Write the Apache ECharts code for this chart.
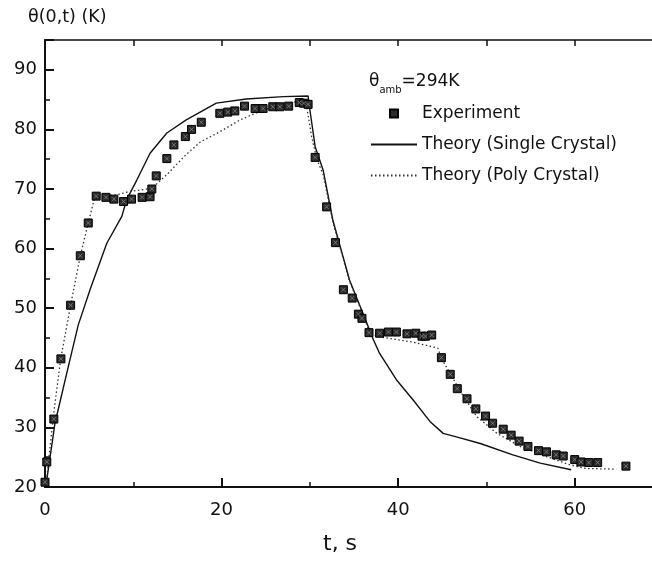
<!DOCTYPE html>
<html><head><meta charset="utf-8">
<script src="https://cdn.jsdelivr.net/npm/echarts@6/dist/echarts.min.js"></script>
<style>html,body{margin:0;padding:0;background:#fff}#c{width:652px;height:562px}</style>
</head><body><div id="c"></div>
<script>
// Experiment (time s, temperature K)
const expT = [0, 0.2, 1.0, 1.8, 2.9, 4.0, 4.9, 5.8, 6.9, 7.8, 8.9, 9.8, 11.0, 11.9, 12.1, 12.6, 13.8, 14.6, 15.9, 16.6, 17.7,
  19.8, 20.7, 21.5, 22.6, 23.8, 24.7, 25.8, 26.6, 27.6, 28.8, 29.3, 29.8, 30.6, 31.9, 32.9, 33.8, 34.8, 35.5, 35.9,
  36.7, 37.9, 38.9, 39.8, 41.0, 42.0, 42.7, 43.1, 43.8, 44.9, 45.9, 46.7, 47.8, 48.8, 49.9, 50.7, 51.9, 52.8, 53.7,
  54.7, 55.9, 56.8, 57.9, 58.7, 60.0, 60.7, 61.6, 62.6, 65.8];
const expTheta = [20.8, 24.2, 31.4, 41.5, 50.5, 58.8, 64.3, 68.8, 68.6, 68.3, 67.9, 68.3, 68.6, 68.7, 70.0, 72.2, 75.1, 77.4, 78.8, 80.0, 81.2,
  82.7, 82.9, 83.1, 83.9, 83.5, 83.5, 83.8, 83.8, 83.9, 84.5, 84.4, 84.2, 75.3, 67.0, 61.0, 53.1, 51.7, 49.0, 48.3,
  45.9, 45.8, 46.0, 46.0, 45.7, 45.8, 45.3, 45.3, 45.5, 41.7, 38.9, 36.5, 34.8, 33.1, 31.9, 30.7, 29.7, 28.7, 27.7,
  26.8, 26.1, 25.9, 25.4, 25.2, 24.6, 24.2, 24.1, 24.1, 23.5];
// Theory (Single Crystal)
const singleT = [0, 0.2, 1.13, 2.64, 3.77, 5.1, 7.0, 8.7, 9.25, 10.4, 11.9, 13.8, 16.0, 19.4, 22.8, 27.0, 29.8, 30.0, 30.6,
  31.5, 32.6, 34.5, 36.0, 37.2, 37.9, 39.8, 41.7, 43.6, 45.1, 46.6, 49.3, 53.0, 56.1, 59.6];
const singleTheta = [20.0, 21.2, 30.7, 40.2, 47.2, 53.1, 60.9, 65.4, 68.2, 71.5, 76.0, 79.4, 81.6, 84.4, 85.1, 85.5, 85.6, 83.3, 77.1,
  73.2, 64.8, 54.7, 49.2, 44.7, 42.4, 38.0, 34.6, 31.0, 29.0, 28.4, 27.3, 25.4, 24.0, 22.9];
// Theory (Poly Crystal)
const polyT = [0, 0.2, 0.94, 1.78, 2.9, 4.0, 4.9, 5.66, 8.1, 9.6, 12.1, 13.8, 16.0, 17.6, 19.8, 22.1, 24.3, 27.0, 29.6, 29.7,
  30.2, 30.8, 31.5, 32.6, 34.5, 36.0, 36.8, 37.9, 41.7, 44.5, 44.9, 46.1, 47.4, 48.9, 51.2, 53.8, 56.8, 59.5, 61.3, 64.7];
const polyTheta = [20.5, 21.5, 31.8, 41.5, 50.5, 58.8, 64.3, 68.8, 69.0, 69.6, 70.1, 72.4, 75.8, 77.9, 79.6, 81.6, 83.0, 84.3, 84.9, 83.3,
  78.8, 74.9, 72.5, 64.5, 54.5, 49.0, 45.8, 45.2, 44.3, 43.3, 41.6, 38.5, 35.2, 31.8, 29.0, 26.8, 25.1, 23.7, 23.1, 23.0];

const seriesNames = ['Experiment', 'Theory (Single Crystal)', 'Theory (Poly Crystal)'];
const xLabelTicks = [0, 20, 40, 60];
const yLabelTicks = [20, 30, 40, 50, 60, 70, 80, 90];

const zip = (a, b) => a.map((v, i) => [v, b[i]]);
const FONT = 'DejaVu Sans';
const INK = '#111';
const CLEAR = 'rgba(0,0,0,0)';

const chart = echarts.init(document.getElementById('c'), null, {renderer: 'canvas'});
const noSplit = {show: false};
chart.setOption({
  animation: false,
  backgroundColor: '#fff',
  grid: {left: 45, top: 40, width: 618, height: 447, containLabel: false, outerBoundsMode: 'none'},
  title: [
    {text: 'θ(0,t) (K)', left: 28, top: 8, padding: 0,
     textStyle: {fontFamily: FONT, fontSize: 17.5, fontWeight: 'normal', color: INK}},
    {text: '{t|θ}{s|amb}{t|=294K}', left: 369, top: 73, padding: 0,
     textStyle: {fontWeight: 'normal', rich: {
       t: {fontFamily: FONT, fontSize: 17, fontWeight: 'normal', color: INK, lineHeight: 20, verticalAlign: 'top'},
       s: {fontFamily: FONT, fontSize: 10, fontWeight: 'normal', color: INK, lineHeight: 10, verticalAlign: 'top', padding: [12, 0, 0, 0]}
     }}},
    {text: 't, s', left: 323, top: 533, padding: 0,
     textStyle: {fontFamily: FONT, fontSize: 22, fontWeight: 'normal', color: INK}}
  ],
  legend: {
    orient: 'vertical', left: 370, top: 105, padding: 0,
    itemWidth: 46, itemHeight: 8, itemGap: 14,
    textStyle: {fontFamily: FONT, fontSize: 17, color: INK},
    data: [
      {name: seriesNames[0], icon: 'path://M0,0h8v8h-8z'},
      {name: seriesNames[1], itemStyle: {color: CLEAR, borderColor: CLEAR, borderWidth: 0}},
      {name: seriesNames[2], itemStyle: {color: CLEAR, borderColor: CLEAR, borderWidth: 0}}
    ]
  },
  xAxis: [
    {type: 'value', min: 0, max: 70, interval: 20, position: 'bottom',
     axisLine: {show: true, onZero: false, lineStyle: {color: INK, width: 2}},
     axisTick: {show: true, inside: true, length: 9, lineStyle: {color: INK, width: 2}},
     axisLabel: {margin: 14, fontFamily: FONT, fontSize: 18, color: INK,
       formatter: v => xLabelTicks.includes(v) ? String(v) : ''},
     splitLine: noSplit},
    {type: 'value', min: 0, max: 70, interval: 10, position: 'bottom',
     axisLine: {show: false}, axisTick: {show: true, inside: true, length: 5, lineStyle: {color: INK, width: 1.5}},
     axisLabel: {show: false}, splitLine: noSplit},
    {type: 'value', min: 0, max: 70, interval: 10, position: 'top',
     axisLine: {show: true, onZero: false, lineStyle: {color: INK, width: 1.5}},
     axisTick: {show: true, inside: true, length: 6, lineStyle: {color: INK, width: 1.5}},
     axisLabel: {show: false}, splitLine: noSplit}
  ],
  yAxis: [
    {type: 'value', min: 20, max: 95, interval: 10, position: 'left',
     axisLine: {show: true, onZero: false, lineStyle: {color: INK, width: 2}},
     axisTick: {show: true, inside: true, length: 9, lineStyle: {color: INK, width: 2}},
     axisLabel: {margin: 8, fontFamily: FONT, fontSize: 18, color: INK,
       formatter: v => yLabelTicks.includes(v) ? String(v) : ''},
     splitLine: noSplit},
    {type: 'value', min: 20, max: 95, interval: 5, position: 'left',
     axisLine: {show: false}, axisTick: {show: true, inside: true, length: 5, lineStyle: {color: INK, width: 1.5}},
     axisLabel: {show: false}, splitLine: noSplit}
  ],
  series: [
    {name: seriesNames[1], type: 'line', data: zip(singleT, singleTheta), symbol: 'none', showSymbol: false,
     lineStyle: {color: INK, width: 1.4, type: 'solid'}, itemStyle: {color: INK}, z: 2},
    {name: seriesNames[2], type: 'line', data: zip(polyT, polyTheta), symbol: 'none', showSymbol: false,
     lineStyle: {color: '#333', width: 1.3, type: [1.5, 2.5]}, itemStyle: {color: '#333'}, z: 2},
    {name: seriesNames[0], type: 'scatter', data: zip(expT, expTheta), symbol: 'rect', symbolSize: 8,
     itemStyle: {color: '#2b2b2b', borderColor: '#000', borderWidth: 1, opacity: 1}, z: 3},
    {name: 'Experiment marker detail', type: 'scatter', data: zip(expT, expTheta), symbol: 'path://M0,0L1,1M1,0L0,1',
     symbolSize: 4, silent: true, itemStyle: {color: CLEAR, borderColor: '#9a9a9a', borderWidth: 0.8}, z: 4}
  ]
});
</script></body></html>
